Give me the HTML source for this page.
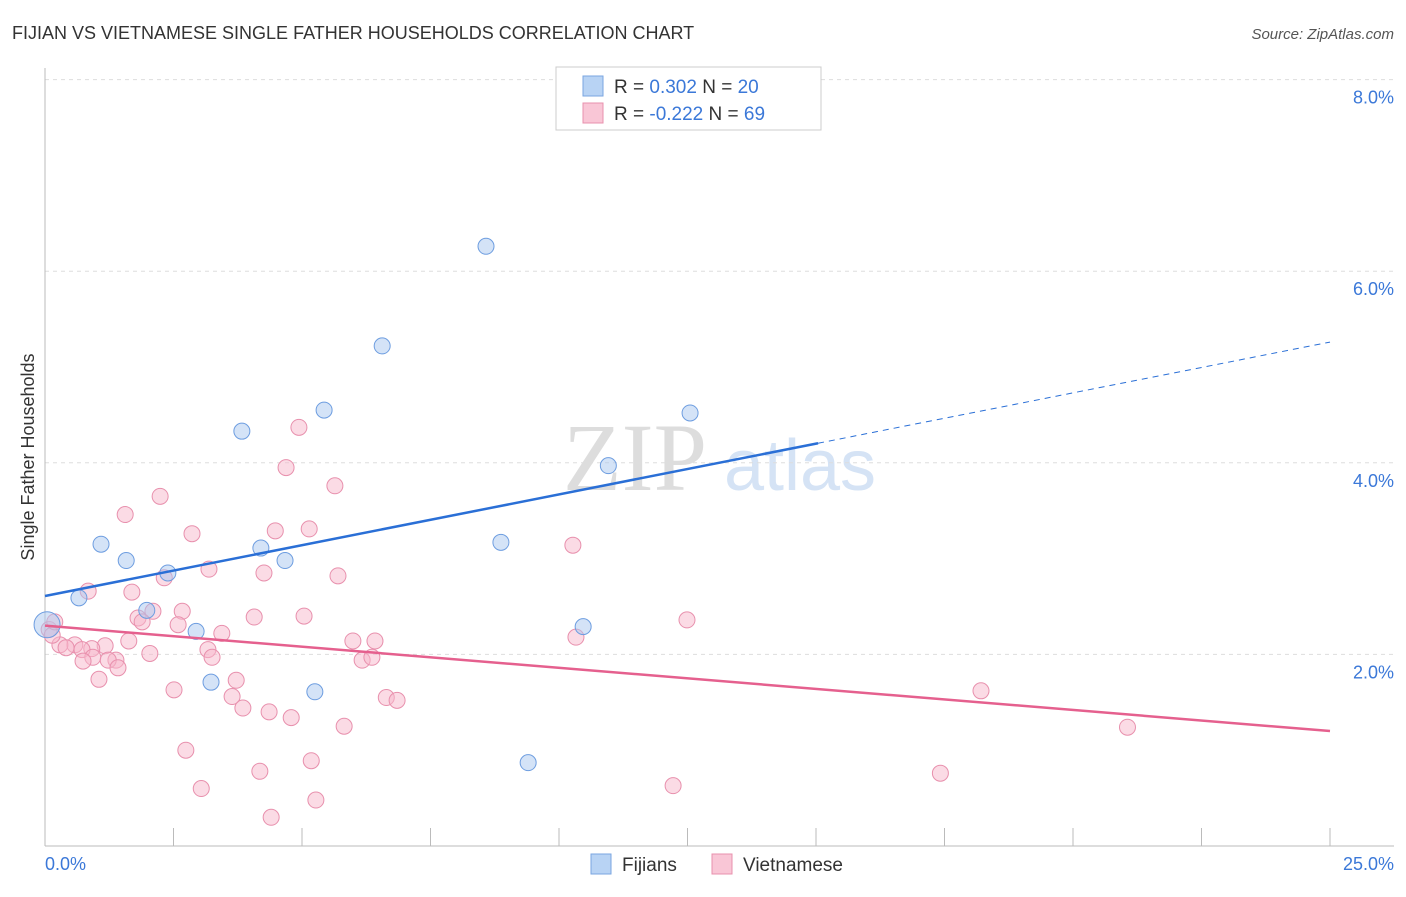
<!DOCTYPE html>
<html><head><meta charset="utf-8"><style>
body{margin:0;background:#fff;font-family:"Liberation Sans",sans-serif;}
</style></head><body>
<svg id="c" width="1406" height="892" xmlns="http://www.w3.org/2000/svg">
<text x="12" y="39" font-size="18" fill="#333">FIJIAN VS VIETNAMESE SINGLE FATHER HOUSEHOLDS CORRELATION CHART</text>
<text x="1394" y="39" font-size="15" fill="#555" text-anchor="end" font-style="italic">Source: ZipAtlas.com</text>
<text x="635" y="490" font-size="96" fill="#ddd" font-family="Liberation Serif,serif" text-anchor="middle">ZIP</text>
<text x="800" y="490" font-size="72" fill="#d5e3f5" text-anchor="middle">atlas</text>
<g id="grid"></g>
<line x1="45" y1="68" x2="45" y2="846" stroke="#bbb"/>
<line x1="45" y1="846" x2="1394" y2="846" stroke="#bbb"/>
<text transform="translate(34,457) rotate(-90)" font-size="18" fill="#333" text-anchor="middle">Single Father Households</text>
<text x="45" y="870" font-size="18" fill="#3b78d8">0.0%</text>
<text x="1394" y="870" font-size="18" fill="#3b78d8" text-anchor="end">25.0%</text>
<g id="pts"></g>
<g id="lines"></g>
<g>
<rect x="556" y="67" width="265" height="63" fill="#fff" stroke="#ccc"/>
<rect x="583" y="76" width="20" height="20" fill="#b8d3f4" stroke="#7aa6e0"/>
<text x="614" y="93" font-size="19" fill="#333">R = <tspan fill="#3b78d8"> 0.302</tspan>   N = <tspan fill="#3b78d8">20</tspan></text>
<rect x="583" y="103" width="20" height="20" fill="#f9c6d6" stroke="#e890ad"/>
<text x="614" y="120" font-size="19" fill="#333">R = <tspan fill="#3b78d8">-0.222</tspan>   N = <tspan fill="#3b78d8">69</tspan></text>
</g>
<g>
<rect x="591" y="854" width="20" height="20" fill="#b8d3f4" stroke="#7aa6e0"/>
<text x="622" y="871" font-size="19" fill="#333">Fijians</text>
<rect x="712" y="854" width="20" height="20" fill="#f9c6d6" stroke="#e890ad"/>
<text x="743" y="871" font-size="19" fill="#333">Vietnamese</text>
</g>
</svg>
<script>
const yTicks=[2,4,6,8];
const xTicks=[0,2.5,5,7.5,10,12.5,15,17.5,20,22.5,25];
const fijX=[8.58,6.56,5.43,3.83,12.55,10.96,1.09,1.58,4.20,4.67,2.39,8.87,0.66,1.98,2.94,10.47,3.23,5.25,9.40,0.04];
const fijY=[6.26,5.22,4.55,4.33,4.52,3.97,3.15,2.98,3.11,2.98,2.85,3.17,2.59,2.46,2.24,2.29,1.71,1.61,0.87,2.31];
const vieX=[4.94,4.69,5.64,2.24,1.56,2.86,4.48,5.14,3.19,4.26,5.70,2.32,10.27,0.84,1.69,2.67,2.10,1.81,1.89,2.59,4.07,5.04,12.49,3.44,1.63,1.17,3.17,5.99,6.42,3.25,0.91,0.58,0.29,0.41,0.72,0.93,1.38,1.23,2.04,0.74,1.42,6.17,6.36,1.05,3.72,2.51,3.64,6.64,6.85,18.21,3.85,4.36,4.79,5.82,21.06,2.74,4.18,5.18,17.42,12.22,3.04,5.27,4.40,10.33,0.08,0.14,0.19];
const vieY=[4.37,3.95,3.76,3.65,3.46,3.26,3.29,3.31,2.89,2.85,2.82,2.80,3.14,2.66,2.65,2.45,2.45,2.38,2.34,2.31,2.39,2.40,2.36,2.22,2.14,2.09,2.05,2.14,2.14,1.97,2.06,2.10,2.10,2.07,2.05,1.97,1.94,1.94,2.01,1.93,1.86,1.94,1.97,1.74,1.73,1.63,1.56,1.55,1.52,1.62,1.44,1.40,1.34,1.25,1.24,1.00,0.78,0.89,0.76,0.63,0.60,0.48,0.30,2.18,2.26,2.20,2.34];
const fijLine=[2.61,5.26];
const vieLine=[2.30,1.20];
const fijSolidEnd=15.04;
const X=v=>45+v/25*1285, Y=v=>846-v*95.8;
const NS="http://www.w3.org/2000/svg";
function mk(t,a,p){const e=document.createElementNS(NS,t);for(const k in a)e.setAttribute(k,a[k]);p.appendChild(e);return e;}
const grid=document.getElementById('grid');
yTicks.forEach(t=>{
 const l=mk('line',{x1:45,x2:1394,y1:Y(t),y2:Y(t),stroke:'#ddd','stroke-dasharray':'4,4'},grid);
 
 
 const tx=mk('text',{x:1394,y:Y(t)+24,'font-size':18,fill:'#3b78d8','text-anchor':'end'},grid);
 tx.textContent=t.toFixed(1)+'%';
 
 
});
xTicks.forEach(t=>{
 const l=mk('line',{x1:X(t),x2:X(t),y1:828,y2:846,stroke:'#bbb'},grid);
 
 
});
const pts=document.getElementById('pts');
vieX.forEach((x,i)=>{
 const c=mk('circle',{cx:X(x),cy:Y(vieY[i]),r:8,fill:'#f7b8cc','fill-opacity':0.5,stroke:'#e890ad','stroke-width':1},pts);
 
 
});
fijX.forEach((x,i)=>{
 const c=mk('circle',{cx:X(x),cy:Y(fijY[i]),r:i==19?13:8,fill:'#a9c8f0','fill-opacity':0.5,stroke:'#6d9de0','stroke-width':1},pts);
 
 
});
const lines=document.getElementById('lines');
const fy=x=>fijLine[0]+(fijLine[1]-fijLine[0])*x/25;
let l1=mk('line',{x1:X(0),y1:Y(fy(0)),x2:X(fijSolidEnd),y2:Y(fy(fijSolidEnd)),stroke:'#2a6fd6','stroke-width':2.5},lines);


let l2=mk('line',{x1:X(fijSolidEnd),y1:Y(fy(fijSolidEnd)),x2:X(25),y2:Y(fy(25)),stroke:'#2a6fd6','stroke-width':1,'stroke-dasharray':'6,5'},lines);


let l3=mk('line',{x1:X(0),y1:Y(vieLine[0]),x2:X(25),y2:Y(vieLine[1]),stroke:'#e5608e','stroke-width':2.5},lines);


</script>
</body></html>
